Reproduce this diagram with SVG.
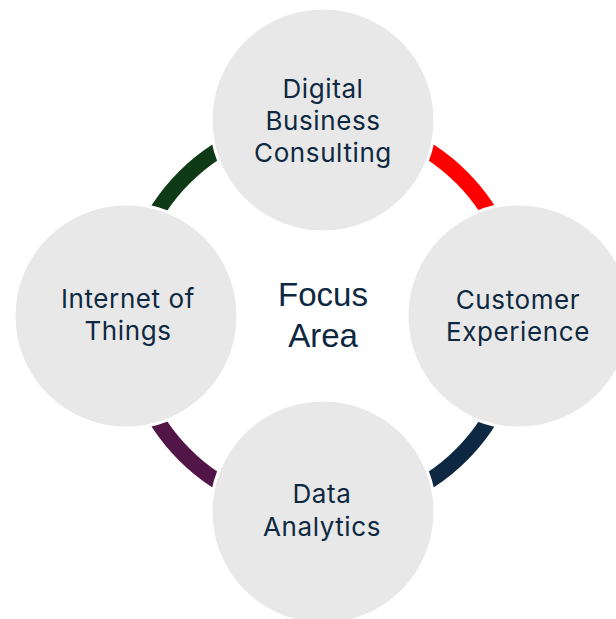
<svg xmlns="http://www.w3.org/2000/svg" width="616" height="619" viewBox="0 0 616 619">
<style>
.arc{fill:none;stroke-width:16}
.node circle{fill:#E8E8E8;stroke:#FFFFFF;stroke-width:3}
.lbl{font-family:Inter,"Open Sans",sans-serif;font-size:26px;letter-spacing:0.6px;fill:#0E2841;text-anchor:middle}
.ctr{font-family:"Liberation Sans",Arial,sans-serif;font-size:33px;fill:#0E2841;text-anchor:middle}
</style>
<rect width="616" height="619" fill="#FFFFFF"/>
<g id="connectors">
<path class="arc" stroke="#0E3B16" d="M127,316 A196,196 0 0 1 323,120"/>
<path class="arc" stroke="#FF0000" d="M323,120 A196,196 0 0 1 519,316"/>
<path class="arc" stroke="#0E2841" d="M519,316 A196,196 0 0 1 323,512"/>
<path class="arc" stroke="#521548" d="M323,512 A196,196 0 0 1 127,316"/>
</g>
<g id="center">
<text class="ctr" x="323" y="306">Focus</text>
<text class="ctr" x="323" y="347">Area</text>
</g>
<g id="node-digital" class="node">
<circle cx="323" cy="120" r="112"/>
<text class="lbl" x="323" y="98">Digital</text>
<text class="lbl" x="323" y="130">Business</text>
<text class="lbl" x="323" y="162">Consulting</text>
</g>
<g id="node-customer" class="node">
<circle cx="519" cy="316" r="112"/>
<text class="lbl" x="518" y="309">Customer</text>
<text class="lbl" x="518" y="341">Experience</text>
</g>
<g id="node-data" class="node">
<circle cx="323" cy="512" r="112"/>
<text class="lbl" x="322" y="503">Data</text>
<text class="lbl" x="322" y="536">Analytics</text>
</g>
<g id="node-iot" class="node">
<circle cx="126" cy="316" r="112"/>
<text class="lbl" x="128" y="308">Internet of</text>
<text class="lbl" x="128" y="340">Things</text>
</g>
</svg>
